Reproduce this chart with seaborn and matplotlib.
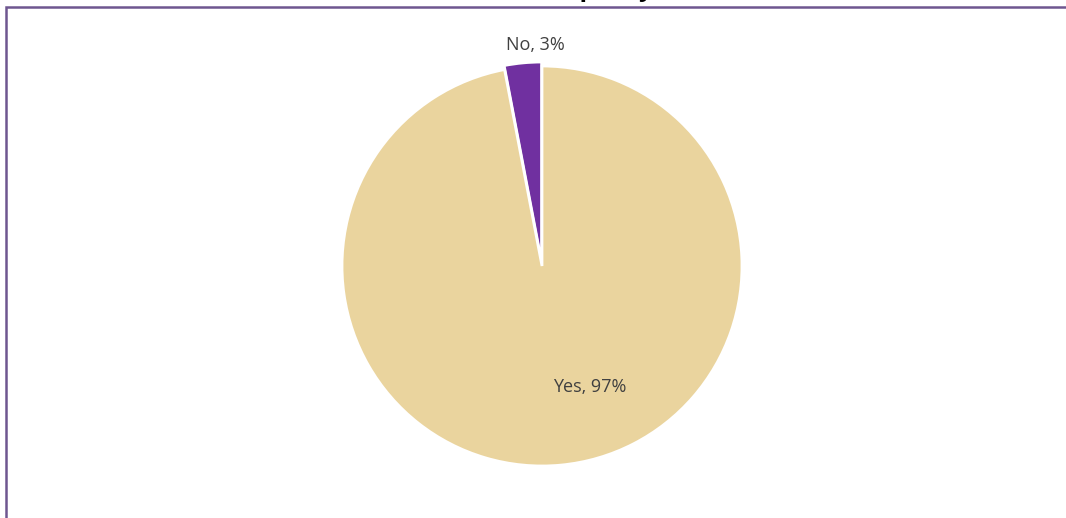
import matplotlib
matplotlib.use("Agg")
import matplotlib.pyplot as plt
import seaborn as sns
from matplotlib.patches import Rectangle

categories = ["No", "Yes"]
percentages = [3, 97]
slice_colors = ["#7030A0", "#EAD49E"]
title_text = "Aware of the policy"

sns.set_theme(style="white")
plt.rcParams['font.family'] = ['Open Sans', 'DejaVu Sans']

fig = plt.figure(figsize=(10.66, 5.18), dpi=100)
fig.patch.set_facecolor("white")

W, H = 1066, 518
cx, cy, r = 542, 266, 200
ax = fig.add_axes([(cx - r) / W, (H - cy - r) / H, 2 * r / W, 2 * r / H])

wedges, _ = ax.pie(percentages, colors=slice_colors, startangle=90, counterclock=True,
                   radius=1, explode=[0.02, 0],
                   wedgeprops=dict(edgecolor="white", linewidth=2))
ax.set_xlim(-1, 1)
ax.set_ylim(-1, 1)
ax.set_aspect("equal")
ax.axis("off")

ax.text(-0.035, 1.105, f"{categories[0]}, {percentages[0]}%", ha="center", va="center",
        fontsize=13, color="#404040")
ax.text(0.24, -0.605, f"{categories[1]}, {percentages[1]}%", ha="center", va="center",
        fontsize=13, color="#404040")

# chart border (extends beyond right and bottom)
fig.patches.append(Rectangle((6 / W, -0.05), 1.1, 1 - 7 / H + 0.05, transform=fig.transFigure,
                             fill=False, edgecolor="#6E5690", linewidth=1.8, zorder=5))

# title clipped at the top
fig.text(0.5, 1 + 4 / H, title_text, ha="center", va="baseline", fontsize=18,
         fontweight="bold", color="black")

fig.savefig("out.png", dpi=100)
